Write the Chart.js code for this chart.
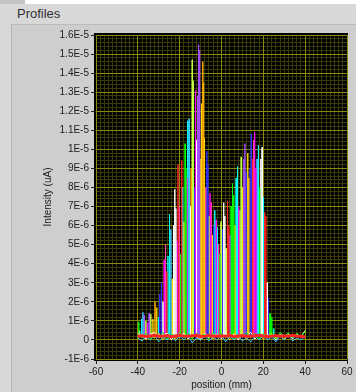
<!DOCTYPE html>
<html>
<head>
<meta charset="utf-8">
<script src="https://cdn.jsdelivr.net/npm/chart.js@4.4.1/dist/chart.umd.min.js"></script>
<style>
  html, body { margin: 0; padding: 0; }
  body { width: 356px; height: 392px; background: #d8d8d8; position: relative; overflow: hidden; font-family: "Liberation Sans", Arial, sans-serif; }
  #tab { position: absolute; left: 0; top: 0; width: 25px; height: 4px; background: #c4c4c4; }
  #strip { position: absolute; left: 25px; top: 0; width: 331px; height: 4px; background: #ffffff; }
  #title { position: absolute; left: 17px; top: 6px; font-size: 13px; line-height: 16px; color: #303030; }
  #panel { position: absolute; left: 11px; top: 24px; right: 0; bottom: 0; background: #cecece; border-left: 1px solid #b4b4b4; border-top: 1px solid #bcbcbc; }
  #wrap { position: absolute; left: 0; top: 0; width: 356px; height: 392px; }
</style>
</head>
<body>
<div id="tab"></div>
<div id="strip"></div>
<div id="title">Profiles</div>
<div id="panel"></div>
<div id="wrap"><canvas id="profiles" width="356" height="392"></canvas></div>
<script>
// axis ticks
const xTickValues = [-60, -40, -20, 0, 20, 40, 60];
const yTickValues = [-1e-6, 0, 1e-6, 2e-6, 3e-6, 4e-6, 5e-6, 6e-6, 7e-6, 8e-6, 9e-6, 1e-5,
                     1.1e-5, 1.2e-5, 1.3e-5, 1.4e-5, 1.5e-5, 1.6e-5];
const yTickLabels = ["-1E-6", "0", "1E-6", "2E-6", "3E-6", "4E-6", "5E-6", "6E-6", "7E-6", "8E-6", "9E-6", "1E-5",
                     "1.1E-5", "1.2E-5", "1.3E-5", "1.4E-5", "1.5E-5", "1.6E-5"];

// scan positions (mm) of the baseline readings
const scanPos = [-40, -38, -36, -34, -32, -30, -28, -26, -24, -22, -20, -18, -16, -14, -12, -10, -8, -6, -4, -2, 0,
                 2, 4, 6, 8, 10, 12, 14, 16, 18, 20, 22, 24, 26, 28, 30, 32, 34, 36, 38, 40];

// baseline readings (uA)
const baseRed = [2.0e-7, 2.2e-7, 1.8e-7, 2.1e-7, 2.4e-7, 1.9e-7, 2.0e-7, 2.3e-7, 1.7e-7, 2.1e-7, 2.5e-7, 2.0e-7, 1.9e-7, 2.2e-7,
                 2.4e-7, 1.8e-7, 2.0e-7, 2.3e-7, 2.1e-7, 1.9e-7, 2.2e-7, 2.0e-7, 2.4e-7, 1.8e-7, 2.1e-7, 2.3e-7, 1.9e-7, 2.0e-7,
                 2.2e-7, 2.5e-7, 2.1e-7, 1.8e-7, 2.0e-7, 2.3e-7, 1.9e-7, 2.2e-7, 2.0e-7, 2.4e-7, 2.1e-7, 1.9e-7, 1.5e-7];
const baseGreen = [3.0e-7, 1.0e-7, 3.5e-7, 0.5e-7, 3.0e-7, 1.5e-7, 4.0e-7, 0.5e-7, 3.0e-7, 2.0e-7, 4.0e-7, 1.0e-7, 3.5e-7, 0.5e-7,
                   3.5e-7, 2.0e-7, 3.0e-7, 0.5e-7, 4.0e-7, 1.5e-7, 3.5e-7, 1.0e-7, 3.5e-7, 0.5e-7, 3.0e-7, 2.0e-7, 4.0e-7, 1.0e-7,
                   3.5e-7, 0.5e-7, 3.5e-7, 1.5e-7, 3.0e-7, 0.5e-7, 4.0e-7, 2.0e-7, 3.5e-7, 1.0e-7, 3.5e-7, 1.5e-7, 4.5e-7];
const baseBlue = [1.0e-7, -0.5e-7, 2.0e-7, 0, 2.5e-7, -1.0e-7, 1.5e-7, 0, 2.5e-7, -0.5e-7, 2.0e-7, 0, 2.5e-7,
                  -1.5e-7, 1.0e-7, 0, 2.0e-7, -0.5e-7, 1.5e-7, 0, 2.5e-7, -1.0e-7, 2.0e-7, 0, 2.5e-7, -0.5e-7,
                  1.0e-7, -1.0e-7, 2.0e-7, 0, 2.5e-7, 0, 1.5e-7, -1.0e-7, 2.0e-7, 0, 2.5e-7, -0.5e-7, 1.0e-7,
                  0, 2.0e-7];
const baseWhite = [3.5e-7, 2.0e-7, 0.5e-7, 3.0e-7, 4.0e-7, 1.0e-7, 2.5e-7, 3.5e-7, 0, 3.0e-7, 1.5e-7, 3.5e-7, 0.5e-7, 3.0e-7,
                   2.0e-7, 0, 3.5e-7, 1.0e-7, 3.0e-7, 2.5e-7, 0.5e-7, 3.5e-7, 1.5e-7, 3.0e-7, 0, 3.0e-7, 2.0e-7, 4.0e-7,
                   0.5e-7, 2.5e-7, 3.5e-7, 1.0e-7, 3.0e-7, 0, 3.0e-7, 2.0e-7, 3.5e-7, 0.5e-7, 3.0e-7, 1.5e-7, 5.0e-7];
const baseYellow = [1.5e-7, 3.0e-7, 0.5e-7, 2.5e-7, 1.0e-7, 3.5e-7, 0, 3.0e-7, 2.0e-7, 0.5e-7, 3.0e-7, 1.5e-7, 2.5e-7, 1.0e-7,
                    3.5e-7, 0.5e-7, 2.0e-7, 3.0e-7, 0.5e-7, 3.0e-7, 1.5e-7, 2.5e-7, 0, 3.5e-7, 1.0e-7, 3.0e-7, 0.5e-7, 2.5e-7,
                    1.5e-7, 3.0e-7, 0.5e-7, 2.0e-7, 3.5e-7, 1.0e-7, 2.5e-7, 0.5e-7, 3.0e-7, 1.5e-7, 3.0e-7, 2.0e-7, 4.5e-7];

// profile peaks: position (mm), peak intensity (uA)
const peakPos = [-39.6, -39.2, -38.3, -37.6, -37.0, -36.2, -35.5, -34.6, -33.8, -32.8, -31.8, -31.0, -30.2, -29.6, -28.8,
                 -28.0, -27.4, -26.8, -26.2, -25.6, -24.9, -24.2, -23.6, -23.0, -22.4, -21.8, -21.3, -20.8, -20.2, -19.6,
                 -19.0, -18.6, -18.0, -17.4, -17.0, -16.5, -16.2, -15.5, -15.0, -14.5, -14.0, -13.5, -13.0, -12.5, -12.0,
                 -11.5, -11.0, -10.5, -10.0, -9.6, -9.0, -8.6, -8.2, -7.6, -7.0, -6.5, -6.0, -5.5, -5.0, -4.4,
                 -3.8, -3.2, -2.6, -2.0, -1.4, -0.8, -0.2, 0.4, 1.0, 1.6, 2.2, 2.8, 3.4, 4.0, 4.6,
                 5.2, 5.8, 6.4, 7.0, 7.6, 8.2, 8.8, 9.4, 10.0, 10.6, 11.2, 11.8, 12.5, 13.0, 13.6,
                 14.2, 14.8, 15.3, 15.8, 16.4, 17.0, 17.6, 18.2, 18.8, 19.4, 20.0, 20.6, 21.2, 21.8, 22.4,
                 23.2, 24.0, 25.0];
const peakTop = [0.95e-6, 0.5e-6, 1.1e-6, 1.45e-6, 1.3e-6, 1.0e-6, 0.9e-6, 1.4e-6, 1.35e-6, 1.1e-6, 2.0e-6, 1.7e-6, 1.2e-6, 2.4e-6, 3.0e-6,
                 2.0e-6, 4.2e-6, 5.0e-6, 3.6e-6, 4.4e-6, 6.6e-6, 5.8e-6, 3.2e-6, 6.0e-6, 7.9e-6, 6.9e-6, 5.2e-6, 9.2e-6, 7.0e-6, 4.5e-6,
                 9.4e-6, 8.0e-6, 6.2e-6, 10.3e-6, 9.0e-6, 8.5e-6, 11.5e-6, 11.6e-6, 7.0e-6, 9.0e-6, 14.7e-6, 13.6e-6, 8.0e-6, 13.1e-6, 10.5e-6,
                 12.8e-6, 15.5e-6, 15.2e-6, 9.5e-6, 12.4e-6, 14.6e-6, 13.5e-6, 10.6e-6, 8.0e-6, 9.9e-6, 9.2e-6, 6.5e-6, 7.7e-6, 7.2e-6, 5.5e-6,
                 6.0e-6, 6.8e-6, 6.3e-6, 5.9e-6, 5.0e-6, 4.5e-6, 6.2e-6, 5.8e-6, 7.2e-6, 6.5e-6, 4.8e-6, 7.3e-6, 6.0e-6, 5.5e-6, 7.0e-6,
                 8.2e-6, 7.6e-6, 6.0e-6, 8.5e-6, 9.1e-6, 7.0e-6, 6.8e-6, 9.6e-6, 8.0e-6, 9.5e-6, 10.3e-6, 8.8e-6, 9.8e-6, 8.5e-6, 9.0e-6,
                 10.8e-6, 9.5e-6, 10.5e-6, 10.9e-6, 9.0e-6, 9.5e-6, 10.2e-6, 8.0e-6, 9.5e-6, 10.1e-6, 7.5e-6, 6.7e-6, 6.5e-6, 3.0e-6, 2.2e-6,
                 1.4e-6, 1.2e-6, 0.6e-6];
const peakFoot = 1.5e-7;

// plot colours
const palette = {
  R: "#ff2424", G: "#00ff00", B: "#3030ff", Y: "#ffd400", M: "#ff00ff", C: "#00ffff",
  W: "#ffffff", P: "#a650ff", L: "#c4ff48", O: "#ffae00", K: "#ff40a8", S: "#40c4ff"
};
const peakColour = ["G","W","C","S","P","L","M","P","L","Y","O","Y","C","B","B",
                    "W","M","K","R","C","C","S","Y","W","W","W","M","R","K","G",
                    "R","C","Y","G","G","M","C","S","W","O","L","L","B","M","W",
                    "P","P","P","Y","Y","O","O","Y","K","B","B","L","M","K","Y",
                    "B","C","M","C","K","G","L","B","W","W","L","R","R","P","G",
                    "G","G","Y","C","C","M","L","L","Y","P","P","B","Y","O","B",
                    "B","R","K","M","M","S","C","G","W","W","C","R","R","W","B",
                    "G","G","C"];

const datasets = [];
function addLine(points, colour, width) {
  datasets.push({ data: points, borderColor: colour, borderWidth: width, pointRadius: 0, tension: 0, fill: false });
}
addLine(scanPos.map((x, i) => ({ x: x, y: baseRed[i] })), palette.R, 3);
addLine(scanPos.map((x, i) => ({ x: x, y: baseGreen[i] })), palette.G, 1);
addLine(scanPos.map((x, i) => ({ x: x, y: baseBlue[i] })), palette.S, 1);
addLine(scanPos.map((x, i) => ({ x: x, y: baseWhite[i] })), palette.W, 1);
addLine(scanPos.map((x, i) => ({ x: x, y: baseYellow[i] })), palette.Y, 1);
peakPos.forEach((p, i) => {
  addLine([{ x: p - 0.12, y: peakFoot }, { x: p, y: peakTop[i] }, { x: p + 0.12, y: peakFoot }], palette[peakColour[i]], 1);
});

const plotBg = {
  id: "plotBg",
  beforeDraw(chart) {
    const a = chart.chartArea, ctx = chart.ctx;
    ctx.save();
    ctx.fillStyle = "#000000";
    ctx.fillRect(a.left - 2, a.top - 2, a.right - a.left + 3, a.bottom - a.top + 4);
    ctx.restore();
  }
};

const tickFont = { family: "Liberation Sans", size: 10 };
const majorGrid = "#8c8c0c";
const minorGrid = "#3a3a06";

new Chart(document.getElementById("profiles"), {
  type: "line",
  data: { datasets: datasets },
  plugins: [plotBg],
  options: {
    responsive: false,
    animation: false,
    events: [],
    layout: { padding: { top: 35, right: 9, left: 0, bottom: 0 } },
    plugins: { legend: { display: false }, tooltip: { enabled: false } },
    scales: {
      xMinor: {
        type: "linear", position: "bottom", min: -60, max: 60,
        afterBuildTicks: s => { const t = []; for (let v = -60; v <= 60; v += 2) t.push({ value: v }); s.ticks = t; },
        afterFit: s => { s.height = 0; },
        ticks: { display: false },
        grid: { color: minorGrid, drawTicks: false, z: -2 },
        border: { display: false }
      },
      yMinor: {
        type: "linear", position: "left", min: -1e-6, max: 1.6e-5,
        afterBuildTicks: s => { const t = []; for (let k = -5; k <= 80; k++) t.push({ value: k * 2e-7 }); s.ticks = t; },
        afterFit: s => { s.width = 0; },
        ticks: { display: false },
        grid: { color: minorGrid, drawTicks: false, z: -2 },
        border: { display: false }
      },
      x: {
        type: "linear", position: "bottom", min: -60, max: 60,
        afterBuildTicks: s => { s.ticks = xTickValues.map(v => ({ value: v })); },
        afterFit: s => { s.height = 33; },
        ticks: { font: tickFont, color: "#202020", padding: 2, maxRotation: 0 },
        grid: { color: majorGrid, tickColor: "#202020", tickLength: 5 },
        border: { display: false },
        title: { display: true, text: "position (mm)", font: tickFont, color: "#202020", padding: { top: 0, bottom: 1 } }
      },
      y: {
        type: "linear", position: "left", min: -1e-6, max: 1.6e-5,
        afterBuildTicks: s => { s.ticks = yTickValues.map(v => ({ value: v })); },
        afterFit: s => { s.width = 96; },
        ticks: { font: tickFont, color: "#202020", padding: 2, callback: (v, i) => yTickLabels[i] },
        grid: { color: majorGrid, tickColor: "#202020", tickLength: 5 },
        border: { display: false },
        title: { display: true, text: "Intensity (uA)", font: tickFont, color: "#202020", padding: { top: 42, bottom: 0 } }
      }
    }
  }
});
</script>
</body>
</html>
